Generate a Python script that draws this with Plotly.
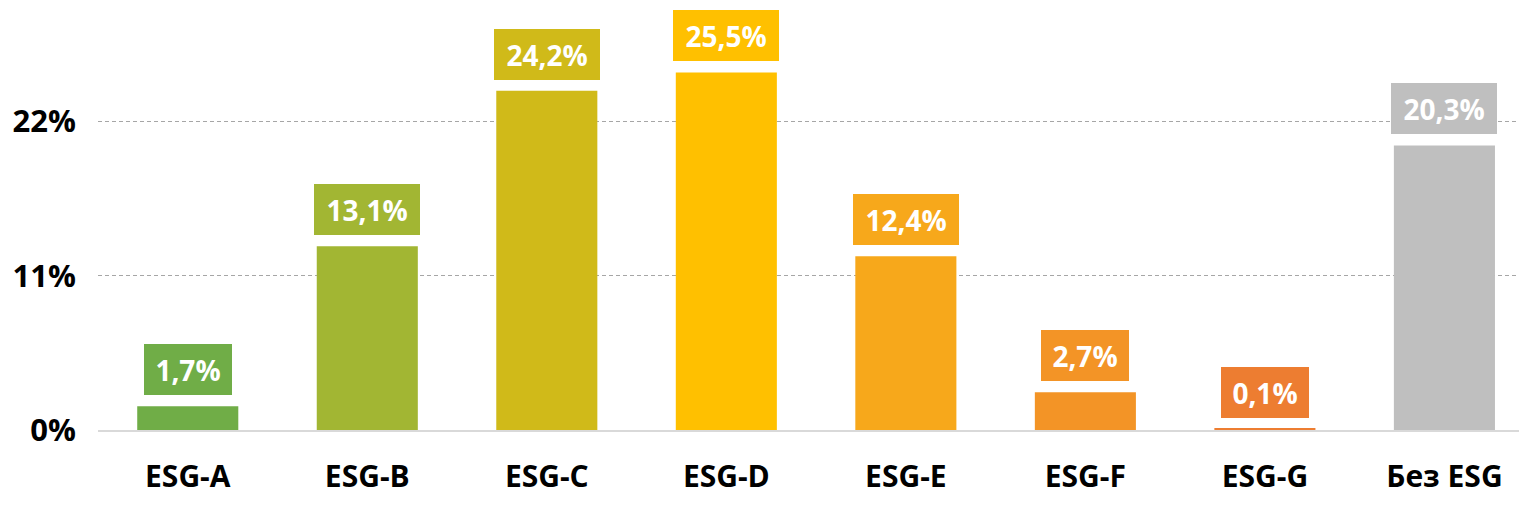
import plotly.graph_objects as go

CATEGORIES = ["ESG-A", "ESG-B", "ESG-C", "ESG-D", "ESG-E", "ESG-F", "ESG-G", "Без ESG"]
VALUES = [1.7, 13.1, 24.2, 25.5, 12.4, 2.7, 0.1, 20.3]
LABELS = ["1,7%", "13,1%", "24,2%", "25,5%", "12,4%", "2,7%", "0,1%", "20,3%"]
BAR_COLORS = ["#70AD47", "#A2B633", "#D0BA19", "#FFC000", "#F7A81B", "#F39426", "#ED7D31", "#BFBFBF"]
Y_TICKS = [0, 11, 22]
Y_TICK_TEXT = ["0%", "11%", "22%"]

FONT = "Open Sans"

fig = go.Figure()

fig.add_trace(go.Bar(
    x=CATEGORIES,
    y=VALUES,
    marker=dict(color=BAR_COLORS, line=dict(width=0)),
    width=0.563,
    showlegend=False,
    hoverinfo="skip",
))

# value labels in coloured boxes above the bars
for cat, val, lab, col in zip(CATEGORIES, VALUES, LABELS, BAR_COLORS):
    fig.add_annotation(
        x=cat, y=val, text=f"<b>{lab}</b>",
        showarrow=False,
        yanchor="bottom", yshift=10,
        width=18 * len(lab), height=35,
        font=dict(family=FONT, size=28, color="white"),
        bgcolor=col, bordercolor="white", borderwidth=1, borderpad=8,
    )

# page body has an 8px margin, so the figure is 8px smaller than the window
fig.update_layout(
    width=1519, height=521,
    paper_bgcolor="white", plot_bgcolor="white",
    margin=dict(l=90, r=0, t=0, b=99, autoexpand=False),
    font=dict(family=FONT, color="black"),
)

fig.update_xaxes(
    type="category",
    range=[-0.5, 7.46],
    automargin=False,
    showline=True, linecolor="#D9D9D9", linewidth=2,
    showgrid=False, ticks="",
    ticklabelstandoff=19,
    tickfont=dict(family=FONT, size=30, color="black", weight="bold"),
)

fig.update_yaxes(
    range=[0, 30.1],
    automargin=False,
    tickvals=Y_TICKS, ticktext=Y_TICK_TEXT,
    showgrid=True, gridcolor="#A6A6A6", gridwidth=1, griddash="4px,3px",
    zeroline=False, showline=False, ticks="",
    ticklabelstandoff=21,
    tickfont=dict(family=FONT, size=31, color="black", weight="bold"),
)

fig.write_html("out.html")
